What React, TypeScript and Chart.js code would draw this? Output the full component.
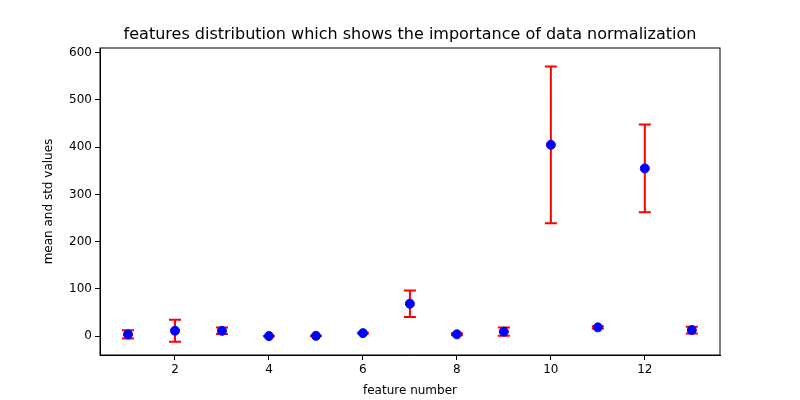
import React, { useEffect, useRef } from "react";
import { Chart, registerables } from "chart.js";
Chart.register(...registerables);

const features = [1, 2, 3, 4, 5, 6, 7, 8, 9, 10, 11, 12, 13];
const means = [3.6, 11.4, 11.1, 0.07, 0.55, 6.3, 68.6, 3.8, 9.5, 405, 18.5, 355, 12.7];
const stds = [8.6, 23.3, 6.9, 0.25, 0.12, 0.7, 28.1, 2.1, 8.7, 166, 2.2, 93, 7.1];
const xTicks = [2, 4, 6, 8, 10, 12];
const yTicks = [0, 100, 200, 300, 400, 500, 600];
const titleText = "features distribution which shows the importance of data normalization";

const errPlugin = {
  id: "errbars",
  beforeDatasetsDraw(chart: any) {
    const { ctx, scales, chartArea } = chart;
    const xs = scales.x, ys = scales.y;
    ctx.save();
    ctx.strokeStyle = "red";
    ctx.lineWidth = 2;
    features.forEach((f, i) => {
      const px = xs.getPixelForValue(f);
      const top = ys.getPixelForValue(means[i] + stds[i]);
      const bot = ys.getPixelForValue(means[i] - stds[i]);
      ctx.beginPath();
      ctx.moveTo(px, top); ctx.lineTo(px, bot);
      ctx.moveTo(px - 6, top); ctx.lineTo(px + 6, top);
      ctx.moveTo(px - 6, bot); ctx.lineTo(px + 6, bot);
      ctx.stroke();
    });
    ctx.restore();
  },
  afterDraw(chart: any) {
    const { ctx, chartArea: a } = chart;
    ctx.save();
    ctx.strokeStyle = "#000";
    ctx.lineWidth = 1;
    ctx.strokeRect(a.left, a.top, a.right - a.left, a.bottom - a.top);
    ctx.fillStyle = "#000";
    ctx.font = "16px 'DejaVu Sans'";
    ctx.textAlign = "center";
    ctx.textBaseline = "bottom";
    ctx.fillText(titleText, (a.left + a.right) / 2, a.top - 5);
    ctx.restore();
  },
};

export default function App() {
  const ref = useRef<HTMLCanvasElement>(null);
  useEffect(() => {
    const font = { family: "DejaVu Sans", size: 12 };
    const chart = new Chart(ref.current!, {
      type: "scatter",
      data: {
        datasets: [{
          data: features.map((f, i) => ({ x: f, y: means[i] })),
          backgroundColor: "blue", borderColor: "blue", pointRadius: 4.5, pointHoverRadius: 4.5,
        }],
      },
      options: {
        animation: false, responsive: false, events: [],
        layout: { padding: { left: 42, right: 80, top: 48, bottom: 0 } },
        plugins: { legend: { display: false }, tooltip: { enabled: false }, title: { display: false } },
        scales: {
          x: {
            type: "linear", min: 0.404, max: 13.6,
            afterBuildTicks: (s: any) => { s.ticks = xTicks.map((v) => ({ value: v })); },
            afterFit: (s: any) => { s.height = 45; },
            grid: { drawOnChartArea: false, tickLength: 5, color: "#000" },
            border: { color: "#000" },
            ticks: { font, color: "#000", padding: 3 },
            title: { display: true, text: "feature number", font, color: "#000", padding: 2 },
          },
          y: {
            min: -40, max: 610,
            afterBuildTicks: (s: any) => { s.ticks = yTicks.map((v) => ({ value: v })); },
            afterFit: (s: any) => { s.width = 58; },
            grid: { drawOnChartArea: false, tickLength: 5, color: "#000" },
            border: { color: "#000" },
            ticks: { font, color: "#000", padding: 3 },
            title: { display: true, text: "mean and std values", font, color: "#000", padding: 0 },
          },
        },
      },
      plugins: [errPlugin],
    } as any);
    return () => chart.destroy();
  }, []);
  return (
    <div style={{ position: "absolute", left: 0, top: 0, background: "#fff" }}>
      <canvas ref={ref} width={800} height={400} />
    </div>
  );
}
